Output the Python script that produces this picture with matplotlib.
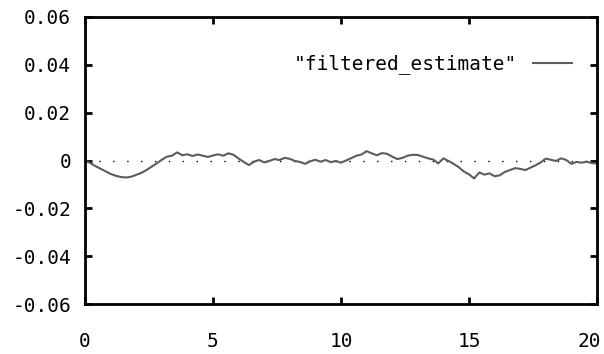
import numpy as np
import matplotlib
matplotlib.use("Agg")
import matplotlib.pyplot as plt
import matplotlib.transforms as mtransforms

# x sampling of the curve (step 0.2 from 0 to 20)
x_step = 0.2
x_vals = np.round(np.arange(0, 101) * x_step, 2)

# filtered_estimate values (in units of 1e-3)
y_milli = [
    0.0, -1.0, -2.3, -3.4, -4.5, -5.6, -6.4, -6.9, -7.1, -6.8,
    -6.0, -5.2, -4.0, -2.6, -1.2, 0.3, 1.6, 2.0, 3.4, 2.2,
    2.6, 1.9, 2.5, 2.0, 1.5, 2.1, 2.6, 2.0, 3.0, 2.4,
    0.8, -0.6, -1.9, -0.5, 0.2, -0.8, -0.2, 0.6, 0.2, 1.1,
    0.7, -0.2, -0.6, -1.4, -0.3, 0.3, -0.5, 0.2, -0.7, -0.2,
    -0.9, 0.0, 1.0, 2.0, 2.5, 3.9, 3.0, 2.2, 3.1, 2.8,
    1.6, 0.6, 1.1, 2.0, 2.4, 2.3, 1.6, 0.9, 0.4, -1.2,
    0.9, -0.2, -1.4, -2.8, -4.6, -5.8, -7.5, -5.0, -5.9, -5.4,
    -6.6, -6.2, -4.8, -4.0, -3.2, -3.5, -4.0, -3.0, -2.0, -0.8,
    0.8, 0.3, -0.2, 0.9, 0.2, -1.4, -0.6, -0.9, -0.5, -1.1,
    -1.2,
]
y_vals = np.array(y_milli) * 1e-3

series_label = '"filtered_estimate"'
x_ticks = [0, 5, 10, 15, 20]
x_ticklabels = ["0", "5", "10", "15", "20"]
y_ticks = [0.06, 0.04, 0.02, 0.0, -0.02, -0.04, -0.06]
y_ticklabels = ["0.06", "0.04", "0.02", "0", "-0.02", "-0.04", "-0.06"]

plt.rcParams['font.family'] = ['DejaVu Sans Mono']

fig = plt.figure(figsize=(6.04, 3.54), dpi=100)
ax = fig.add_axes([85/604, 1-304/354, 512/604, 287/354])

ax.axhline(0, color='black', lw=1.0, linestyle=(0, (1, 9)), zorder=1)
ax.plot(x_vals, y_vals, color='#5c5c5c', lw=1.5, label=series_label, zorder=2)

ax.set_xlim(0, 20)
ax.set_ylim(-0.06, 0.06)
ax.set_xticks(x_ticks)
ax.set_xticklabels(x_ticklabels)
ax.set_yticks(y_ticks)
ax.set_yticklabels(y_ticklabels)

for s in ax.spines.values():
    s.set_linewidth(2.0)
    s.set_color('black')
ax.tick_params(direction='in', length=5, width=2, labelsize=14,
               top=True, right=True)
ax.tick_params(axis='x', pad=20)
ax.tick_params(axis='y', pad=10)

# keep the last x tick label inside the image, as in the reference
last = ax.get_xticklabels()[-1]
last.set_horizontalalignment('right')
last.set_transform(last.get_transform() +
                   mtransforms.ScaledTranslation(4/100, 0, fig.dpi_scale_trans))

leg = ax.legend(loc='center right', bbox_to_anchor=(0.951, 0.835),
                frameon=False, markerfirst=False, handlelength=2.0,
                handletextpad=0.8, borderpad=0, borderaxespad=0,
                fontsize=14)

fig.savefig("out.png", dpi=100)
